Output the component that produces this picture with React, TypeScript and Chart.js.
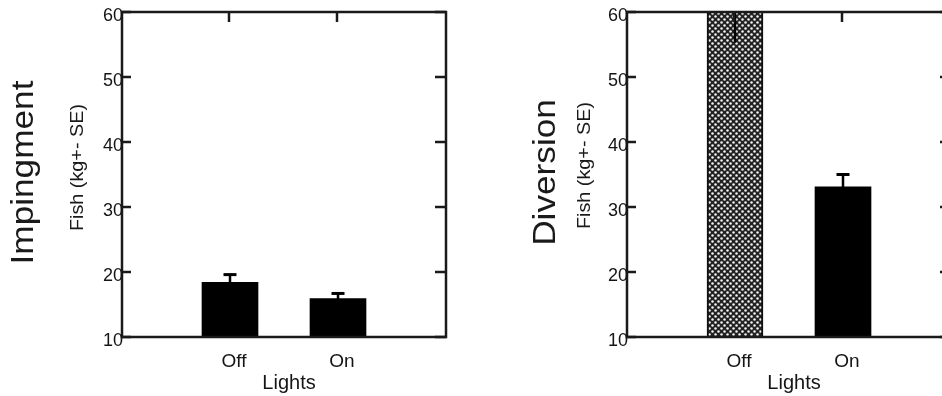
import React, { useEffect, useRef } from 'react';
import { Chart, registerables } from 'chart.js';
Chart.register(...registerables);

// ---- data ----
const categories = ['Off', 'On'];
const impingementMeans = [18.4, 15.9];
const impingementSE = [1.2, 0.8];
const diversionMeans = [62, 33.1];
const diversionSE = [6.7, 1.9];
const yTicks = [10, 20, 30, 40, 50, 60];
const yMin = 10;
const yMax = 60;
const xTitle = 'Lights';
const yTitle = 'Fish (kg+- SE)';

function makePattern(): CanvasPattern {
  const n = 6;
  const c = document.createElement('canvas');
  c.width = n;
  c.height = n;
  const g = c.getContext('2d')!;
  g.fillStyle = '#222';
  g.fillRect(0, 0, n, n);
  g.fillStyle = '#f4f4f4';
  const dots = [[1.5, 1.5], [4.5, 4.5]];
  for (const [x, y] of dots) {
    for (const dx of [-n, 0, n]) {
      for (const dy of [-n, 0, n]) {
        g.beginPath();
        g.arc(x + dx, y + dy, 1.25, 0, Math.PI * 2);
        g.fill();
      }
    }
  }
  return g.createPattern(c, 'repeat')!;
}

const panelPlugin = {
  id: 'panel',
  afterDatasetsDraw(chart: any, _args: any, opts: any) {
    const { ctx, chartArea: a } = chart;
    const x = chart.scales.x;
    const y = chart.scales.y;
    const ds = chart.data.datasets[0];
    ctx.save();
    ctx.beginPath();
    ctx.rect(a.left, a.top, a.right - a.left, a.bottom - a.top);
    ctx.clip();
    ctx.strokeStyle = '#000';
    ctx.lineWidth = 2.5;
    ds.data.forEach((v: number | null, i: number) => {
      if (v == null) return;
      const se = opts.se[i - 1];
      const px = x.getPixelForValue(i);
      const lo = y.getPixelForValue(v - se);
      const hi = y.getPixelForValue(v + se);
      ctx.beginPath();
      ctx.moveTo(px, lo);
      ctx.lineTo(px, hi);
      ctx.stroke();
      ctx.lineWidth = 3;
      ctx.beginPath();
      ctx.moveTo(px - 6.5, hi);
      ctx.lineTo(px + 6.5, hi);
      ctx.stroke();
      ctx.lineWidth = 2.5;
    });
    ctx.restore();
  },
  afterDraw(chart: any, _args: any, opts: any) {
    const { ctx, chartArea: a } = chart;
    const x = chart.scales.x;
    const y = chart.scales.y;
    ctx.save();
    ctx.strokeStyle = '#1a1a1a';
    ctx.lineWidth = 2.5;
    ctx.lineCap = 'square';
    ctx.beginPath();
    ctx.rect(a.left, a.top, a.right - a.left, a.bottom - a.top);
    ctx.stroke();

    // y ticks (left and right, inward)
    ctx.lineWidth = 2.5;
    ctx.lineCap = 'butt';
    yTicks.forEach((t) => {
      const py = y.getPixelForValue(t);
      ctx.beginPath();
      ctx.moveTo(a.left, py);
      ctx.lineTo(a.left + 9, py);
      ctx.moveTo(a.right, py);
      ctx.lineTo(a.right - 11, py);
      ctx.stroke();
    });
    // top ticks at categories
    categories.forEach((_c, i) => {
      const px = x.getPixelForValue(i + 1) - 1;
      ctx.beginPath();
      ctx.moveTo(px, a.top);
      ctx.lineTo(px, a.top + 10);
      ctx.stroke();
    });

    // y tick labels
    ctx.fillStyle = '#151515';
    ctx.font = '18px Arial, "Liberation Sans", sans-serif';
    ctx.textAlign = 'right';
    ctx.textBaseline = 'middle';
    yTicks.forEach((t) => {
      ctx.fillText(String(t), a.left + 1, y.getPixelForValue(t) + 4);
    });

    // x category labels
    ctx.font = '19px Arial, "Liberation Sans", sans-serif';
    ctx.textAlign = 'center';
    ctx.textBaseline = 'alphabetic';
    categories.forEach((c, i) => {
      ctx.fillText(c, x.getPixelForValue(i + 1) + 4, a.bottom + 30);
    });
    // x title
    ctx.font = '20px Arial, "Liberation Sans", sans-serif';
    const mid = (x.getPixelForValue(1) + x.getPixelForValue(2)) / 2;
    ctx.fillText(xTitle, mid + 5, a.bottom + 52);

    // rotated titles
    const cy = (a.top + a.bottom) / 2;
    const drawRot = (text: string, bx: number, yc: number, font: string) => {
      ctx.save();
      ctx.translate(bx, yc);
      ctx.rotate(-Math.PI / 2);
      ctx.scale(1.1, 1);
      ctx.font = font;
      ctx.textAlign = 'center';
      ctx.textBaseline = 'alphabetic';
      ctx.fillText(text, 0, 0);
      ctx.restore();
    };
    ctx.fillStyle = '#1a1a1a';
    drawRot(opts.title, a.left - opts.titleOffset, cy - 2, '32px Arial, "Liberation Sans", sans-serif');
    drawRot(yTitle, a.left - opts.subOffset, cy - opts.subShift, '18px Arial, "Liberation Sans", sans-serif');
    ctx.restore();
  },
};

type PanelProps = {
  title: string;
  means: number[];
  se: number[];
  fills: (string | 'pattern')[];
  borders: number[];
  left: number;
  width: number;
  padLeft: number;
  padRight: number;
  titleOffset: number;
  subOffset: number;
  subShift: number;
};

function Panel(p: PanelProps) {
  const ref = useRef<HTMLCanvasElement | null>(null);
  useEffect(() => {
    const canvas = ref.current!;
    const pattern = makePattern();
    const bg = p.fills.map((f) => (f === 'pattern' ? pattern : f));
    const chart = new Chart(canvas, {
      type: 'bar',
      data: {
        labels: ['', ...categories, ''],
        datasets: [
          {
            data: [null, ...p.means, null],
            backgroundColor: ['#000', ...bg, '#000'] as any,
            borderColor: '#111',
            borderWidth: [0, ...p.borders, 0] as any,
            barThickness: 56,
          },
        ],
      },
      options: {
        responsive: false,
        animation: false,
        devicePixelRatio: 1,
        layout: { padding: { left: p.padLeft, right: p.padRight, top: 12, bottom: 59 } },
        plugins: {
          legend: { display: false },
          tooltip: { enabled: false },
          panel: { title: p.title, se: p.se, titleOffset: p.titleOffset, subOffset: p.subOffset, subShift: p.subShift },
        } as any,
        scales: {
          x: { display: false, offset: false, grid: { offset: false } },
          y: { display: false, min: yMin, max: yMax },
        },
      },
      plugins: [panelPlugin as any],
    });
    return () => chart.destroy();
  }, []);
  return (
    <canvas
      ref={ref}
      width={p.width}
      height={396}
      style={{ position: 'absolute', left: p.left, top: 0, width: p.width, height: 396 }}
    />
  );
}

export default function App() {
  return (
    <div
      style={{
        position: 'fixed',
        left: 0,
        top: 0,
        width: 942,
        height: 396,
        overflow: 'hidden',
        background: '#fff',
      }}
    >
      <Panel
        title="Impingment"
        means={impingementMeans}
        se={impingementSE}
        fills={['#000', '#000']}
        borders={[0, 0]}
        left={0}
        width={471}
        padLeft={122}
        padRight={25}
        titleOffset={89}
        subOffset={39}
        subShift={7}
      />
      <Panel
        title="Diversion"
        means={diversionMeans}
        se={diversionSE}
        fills={['pattern', '#000']}
        borders={[2, 0]}
        left={471}
        width={500}
        padLeft={156}
        padRight={20}
        titleOffset={72}
        subOffset={37}
        subShift={9}
      />
    </div>
  );
}
